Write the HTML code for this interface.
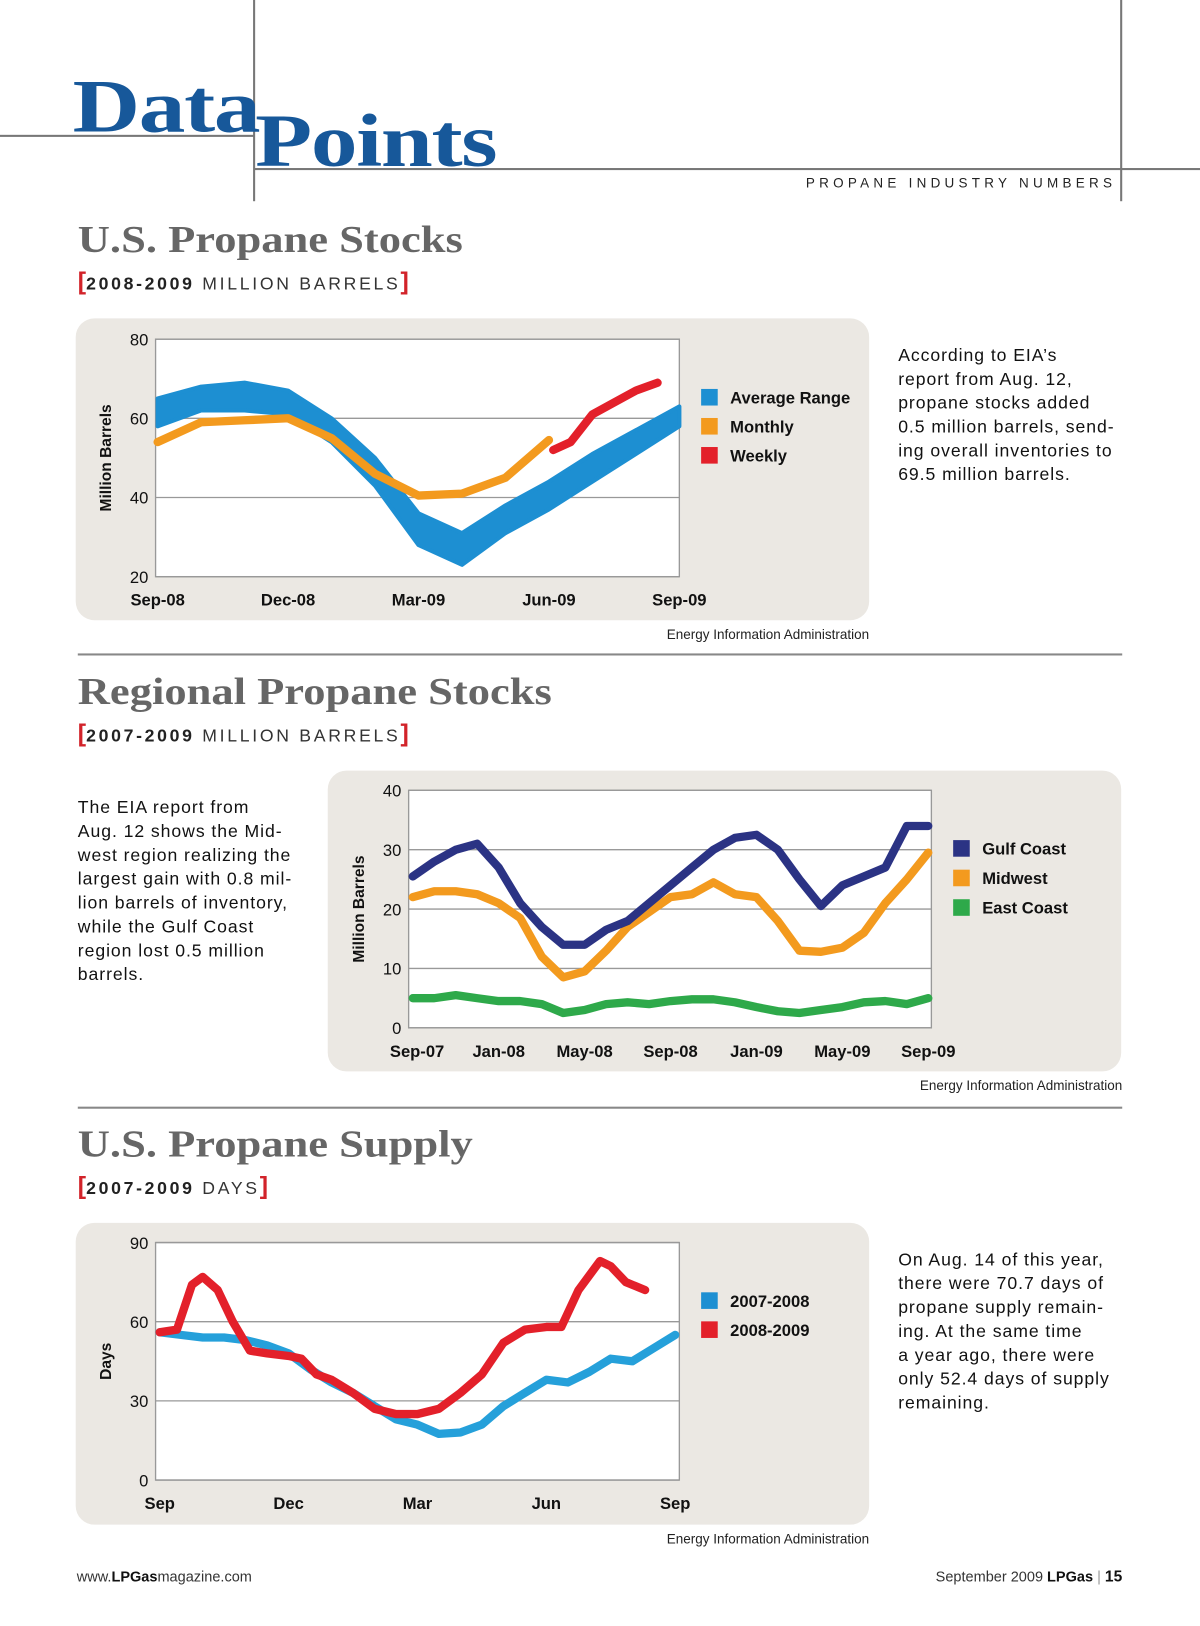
<!DOCTYPE html>
<html><head><meta charset="utf-8">
<style>
html,body{margin:0;padding:0;background:#fff;width:1200px;height:1626px;overflow:hidden}
#page{position:absolute;left:0;top:0;width:1157px;height:1568px;transform:scale(1.03717);transform-origin:0 0;font-family:"Liberation Sans",sans-serif;color:#111}
.abs{position:absolute}
.ttl{font-family:"Liberation Serif",serif;font-weight:bold;color:#666;font-size:37px;left:75px;white-space:nowrap;transform-origin:0 0;transform:scaleX(1.16)}
.sub{font-size:17px;letter-spacing:2.6px;color:#333;left:75px;white-space:nowrap}
.sub b{color:#d2232a;font-size:24px;font-weight:bold;letter-spacing:0}
.sub span{font-weight:bold;color:#222}
.para{font-size:17px;line-height:23px;color:#111;letter-spacing:0.9px}
.src{font-size:13px;color:#222;white-space:nowrap}
.hl{position:absolute;background:#777}
.big{font-family:'Liberation Serif',serif;font-weight:bold;font-size:72px;color:#17589a;letter-spacing:-1px;transform-origin:0 0;transform:scaleX(1.25)}
svg text{font-family:"Liberation Sans",sans-serif}
</style></head><body>
<div id="page">
<div class="hl" style="left:0;top:130px;width:245px;height:2px"></div>
<div class="hl" style="left:245px;top:162px;width:912px;height:2px"></div>
<div class="hl" style="left:244px;top:0;width:2px;height:194px"></div>
<div class="hl" style="left:1080px;top:0;width:2px;height:194px"></div>
<div class="abs big" style="left:70px;top:62px">Data</div>
<div class="abs big" style="left:246px;top:95px">Points</div>
<div class="abs" style="left:777px;top:169px;font-size:13px;letter-spacing:4.1px;color:#222;white-space:nowrap">PROPANE INDUSTRY NUMBERS</div>

<div class="abs ttl" style="top:210px">U.S. Propane Stocks</div>
<div class="abs sub" style="top:258px"><b>[</b><span>2008-2009</span> MILLION BARRELS<b>]</b></div>
<div class="abs para" style="left:866px;top:331px;width:240px">According to EIA’s<br>report from Aug. 12,<br>propane stocks added<br>0.5 million barrels, send-<br>ing overall inventories to<br>69.5 million barrels.</div>
<div class="abs src" style="left:640px;top:604px;width:198px;text-align:right">Energy Information Administration</div>
<div class="hl" style="left:75px;top:630px;width:1007px;height:2px;background:#888"></div>

<div class="abs ttl" style="top:646px">Regional Propane Stocks</div>
<div class="abs sub" style="top:694px"><b>[</b><span>2007-2009</span> MILLION BARRELS<b>]</b></div>
<div class="abs para" style="left:75px;top:767px;width:240px">The EIA report from<br>Aug. 12 shows the Mid-<br>west region realizing the<br>largest gain with 0.8 mil-<br>lion barrels of inventory,<br>while the Gulf Coast<br>region lost 0.5 million<br>barrels.</div>
<div class="abs src" style="left:884px;top:1039px;width:198px;text-align:right">Energy Information Administration</div>
<div class="hl" style="left:75px;top:1067px;width:1007px;height:2px;background:#888"></div>

<div class="abs ttl" style="top:1082px">U.S. Propane Supply</div>
<div class="abs sub" style="top:1130px"><b>[</b><span>2007-2009</span> DAYS<b>]</b></div>
<div class="abs para" style="left:866px;top:1203px;width:240px">On Aug. 14 of this year,<br>there were 70.7 days of<br>propane supply remain-<br>ing. At the same time<br>a year ago, there were<br>only 52.4 days of supply<br>remaining.</div>
<div class="abs src" style="left:640px;top:1476px;width:198px;text-align:right">Energy Information Administration</div>

<div class="abs" style="left:74px;top:1512px;font-size:14px;color:#333">www.<b style="color:#111">LPGas</b>magazine.com</div>
<div class="abs" style="left:840px;top:1512px;width:242px;text-align:right;font-size:14px;color:#333;white-space:nowrap">September 2009 <b style="color:#111">LPGas</b> <span style="color:#999">|</span> <b style="color:#111;font-size:15px">15</b></div>

<svg id="svg" class="abs" style="left:0;top:0" width="1157" height="1568"></svg>
</div>
<script>
// Chart 1: US propane stocks (months from Sep-08)
const c1Ticks=[20,40,60,80];
const c1XLabels=["Sep-08","Dec-08","Mar-09","Jun-09","Sep-09"];
const c1BandMonths=[0,1,2,3,4,5,6,7,8,9,10,11,12];
const c1BandHigh=[65,68,69,67,60,50,36,31,38,44,51,57,63];
const c1BandLow=[58,62,62,61,54,43,28,23,31,37,44,51,58];
const c1MonthlyM=[0,1,2,3,4,5,6,7,8,9];
const c1Monthly=[54,59,59.5,60,55,46,40.5,41,45,54.5];
const c1WeeklyM=[9.1,9.5,10,10.5,11,11.5];
const c1Weekly=[52,54,61,64,67,69];
// Chart 2: regional stocks (months from Sep-07)
const c2Ticks=[0,10,20,30,40];
const c2XLabels=["Sep-07","Jan-08","May-08","Sep-08","Jan-09","May-09","Sep-09"];
const c2Gulf=[25.5,28,30,31,27,21,17,14,14,16.5,18,21,24,27,30,32,32.5,30,25,20.5,24,25.5,27,34,34];
const c2Midwest=[22,23,23,22.5,21,18.5,12,8.5,9.5,13,17,19.5,22,22.5,24.5,22.5,22,18,13,12.8,13.5,16,21,25,29.5];
const c2East=[5,5,5.5,5,4.5,4.5,4,2.5,3,4,4.3,4,4.5,4.8,4.8,4.3,3.5,2.8,2.5,3,3.5,4.3,4.5,4,5];
// Chart 3: supply days (months from Sep)
const c3Ticks=[0,30,60,90];
const c3XLabels=["Sep","Dec","Mar","Jun","Sep"];
const c3BlueM=[0,0.5,1,1.5,2,2.5,3,3.5,4,4.5,5,5.5,6,6.5,7,7.5,8,8.5,9,9.5,10,10.5,11,11.5,12];
const c3Blue=[56,55,54,54,53,51,48,42,37,33,28,23,21,17.5,18,21,28,33,38,37,41,46,45,50,55];
const c3RedM=[0,0.4,0.75,1,1.35,1.7,2.1,2.5,3,3.3,3.65,4,4.5,5,5.5,6,6.5,7,7.5,8,8.5,9,9.35,9.75,10.25,10.5,10.85,11.3];
const c3Red=[56,57,74,77,72,60,49,48,47,46,40,38,33,27,25,25,27,33,40,52,57,58,58,72,83,81,75,72];

const NS="http://www.w3.org/2000/svg";
const svg=document.getElementById('svg');
function mk(t,a,p){const e=document.createElementNS(NS,t);for(const k in a)e.setAttribute(k,a[k]);(p||svg).appendChild(e);return e;}
function lin(d0,d1,r0,r1){return v=>r0+(v-d0)*(r1-r0)/(d1-d0);}
function pts(xs,ys,X,Y){return xs.map((m,i)=>X(m).toFixed(1)+","+Y(ys[i]).toFixed(1)).join(" ");}

function frame(name,px,py,pw,ph,x0,y0,x1,y1,ticks,Y,labels,X,labelPos,ytitle){
  const g=mk('g',{});
  
  
  const p=mk('rect',{x:px,y:py,width:pw,height:ph,rx:18,fill:'#ebe8e3'},g);
  
  
  mk('rect',{x:x0,y:y0,width:x1-x0,height:y1-y0,fill:'#fff'},g);
  ticks.forEach(t=>{
    const gl=mk('line',{x1:x0,x2:x1,y1:Y(t),y2:Y(t),stroke:'#999','stroke-width':1.3},g);
    
    
    const tl=mk('text',{x:x0-7,y:Y(t)+6,'text-anchor':'end','font-size':16,fill:'#111'},g);
    tl.textContent=t;
    
    
  });
  mk('rect',{x:x0,y:y0,width:x1-x0,height:y1-y0,fill:'none',stroke:'#999','stroke-width':1.3},g);
  labels.forEach((l,i)=>{
    const tx=mk('text',{x:X(labelPos[i]),y:y1+28,'text-anchor':'middle','font-size':16,'font-weight':'bold',fill:'#111'},g);
    tx.textContent=l;
    
    
  });
  if(ytitle){
    const yt=mk('text',{x:0,y:0,'text-anchor':'middle','font-size':15,'font-weight':'bold',fill:'#111',transform:`translate(${x0-43},${(y0+y1)/2}) rotate(-90)`},g);
    yt.textContent=ytitle;
    
    
  }
  return g;
}
function legend(items,x,y,gap){
  items.forEach((it,i)=>{
    const r=mk('rect',{x:x,y:y+i*gap-8,width:16,height:16,fill:it[1]});
    
    
    const t=mk('text',{x:x+28,y:y+i*gap+6,'font-size':16,'font-weight':'bold',fill:'#111'});
    t.textContent=it[0];
    
    
  });
}
function line(xs,ys,X,Y,col,name,w){
  const l=mk('polyline',{points:pts(xs,ys,X,Y),fill:'none',stroke:col,'stroke-width':w||8,'stroke-linejoin':'round','stroke-linecap':'round'});
  
  
}

// chart 1
{const X=lin(0,12,152,655),Y=lin(20,80,556,327);
 frame('stocks-chart',73,307,765,291,150,327,655,556,c1Ticks,Y,c1XLabels,X,[0,3,6,9,12],'Million Barrels');
 const up=c1BandMonths.map((m,i)=>X(m)+","+Y(c1BandHigh[i]));
 const lo=c1BandMonths.map((m,i)=>X(m)+","+Y(c1BandLow[i])).reverse();
 const b=mk('polygon',{points:up.concat(lo).join(" "),fill:'#1d8fd2',stroke:'#1d8fd2','stroke-width':4,'stroke-linejoin':'round'});
 
 
 line(c1MonthlyM,c1Monthly,X,Y,'#f39a1e','monthly-line');
 line(c1WeeklyM,c1Weekly,X,Y,'#e3202a','weekly-line');
 legend([["Average Range","#1d8fd2"],["Monthly","#f39a1e"],["Weekly","#e3202a"]],676,383,28);
}
// chart 2
{const X=lin(0,24,398,895),Y=lin(0,40,991,762);
 frame('regional-chart',316,743,765,290,394,762,898,991,c2Ticks,Y,c2XLabels,X,[0.2,4,8,12,16,20,24],'Million Barrels');
 const ms=c2Gulf.map((_,i)=>i);
 line(ms,c2East,X,Y,'#2ea94a','east-coast-line');
 line(ms,c2Midwest,X,Y,'#f39a1e','midwest-line');
 line(ms,c2Gulf,X,Y,'#2b3384','gulf-coast-line');
 legend([["Gulf Coast","#2b3384"],["Midwest","#f39a1e"],["East Coast","#2ea94a"]],919,818,28.5);
}
// chart 3
{const X=lin(0,12,154,651),Y=lin(0,90,1427,1198);
 frame('supply-chart',73,1179,765,291,150,1198,655,1427,c3Ticks,Y,c3XLabels,X,[0,3,6,9,12],'Days');
 line(c3BlueM,c3Blue,X,Y,'#25a0da','line-2007-2008');
 line(c3RedM,c3Red,X,Y,'#e3202a','line-2008-2009');
 legend([["2007-2008","#1d8fd2"],["2008-2009","#e3202a"]],676,1254,28);
}
</script>
</body></html>
